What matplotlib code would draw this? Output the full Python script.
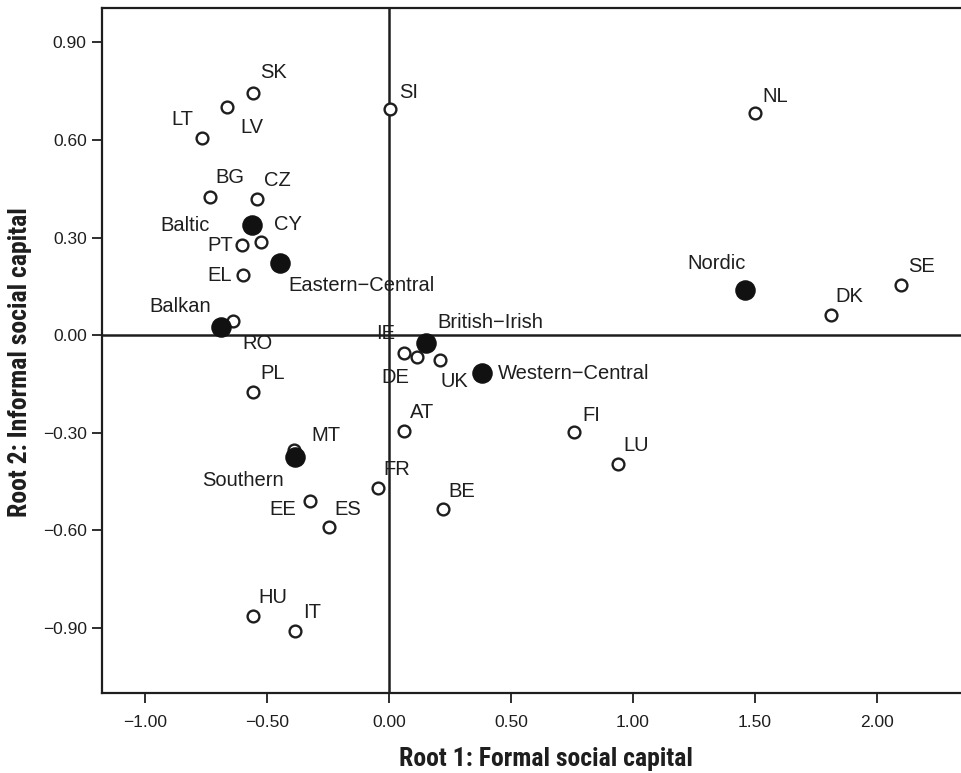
import matplotlib
matplotlib.use("Agg")
import matplotlib.pyplot as plt
from matplotlib import font_manager

plt.rcParams['font.family'] = ['Liberation Sans', 'DejaVu Sans']

# country scores on the two discriminant roots
countries = ['SK', 'LV', 'LT', 'SI', 'NL', 'BG', 'CZ', 'CY', 'PT', 'EL', 'RO',
             'SE', 'DK', 'IE', 'DE', 'UK', 'PL', 'AT', 'MT', 'FR', 'EE', 'ES',
             'BE', 'FI', 'LU', 'HU', 'IT']
root1 = [-0.557, -0.664, -0.766, 0.004, 1.50, -0.734, -0.541, -0.525, -0.602, -0.598, -0.639,
         2.10, 1.81, 0.061, 0.115, 0.209, -0.557, 0.061, -0.389, -0.045, -0.324, -0.246,
         0.221, 0.758, 0.939, -0.557, -0.385]
root2 = [0.745, 0.702, 0.606, 0.695, 0.683, 0.425, 0.418, 0.286, 0.277, 0.185, 0.043,
         0.154, 0.062, -0.055, -0.066, -0.077, -0.175, -0.295, -0.354, -0.471, -0.511, -0.591,
         -0.535, -0.298, -0.397, -0.862, -0.908]

# group centroids
groups = ['Baltic', 'Eastern\u2212Central', 'Balkan', 'British\u2212Irish',
          'Western\u2212Central', 'Southern', 'Nordic']
g_root1 = [-0.561, -0.447, -0.689, 0.152, 0.381, -0.385, 1.459]
g_root2 = [0.338, 0.222, 0.025, -0.025, -0.117, -0.375, 0.138]

# label offsets in pixels (dx, dy up) and horizontal alignment
c_off = {'SK': (20, 20), 'LV': (25, -21), 'LT': (-20, 19), 'SI': (19, 17), 'NL': (20, 17),
         'BG': (20, 19), 'CZ': (20, 19), 'CY': (27, 18), 'PT': (-22, 0), 'EL': (-23, 0),
         'RO': (24, -22), 'SE': (20, 19), 'DK': (19, 19), 'IE': (-18, 20), 'DE': (-22, -21),
         'UK': (14, -21), 'PL': (20, 19), 'AT': (18, 19), 'MT': (32, 15), 'FR': (19, 19),
         'EE': (-27, -8), 'ES': (19, 18), 'BE': (19, 18), 'FI': (17, 17), 'LU': (18, 19),
         'HU': (20, 18), 'IT': (17, 18)}
g_off = {'Baltic': (-67, 0, 'center'), 'Eastern\u2212Central': (9, -23, 'left'),
         'Balkan': (-41, 21, 'center'), 'British\u2212Irish': (11, 21, 'left'),
         'Western\u2212Central': (16, 0, 'left'), 'Southern': (-52, -23, 'center'),
         'Nordic': (-28, 27, 'center')}

# narrow bold face for the axis titles, if one is installed
names = {f.name for f in font_manager.fontManager.ttflist}
narrow = [n for n in ['Roboto Condensed', 'Liberation Sans Narrow', 'Open Sans Condensed',
                      'DejaVu Sans Condensed'] if n in names]
if narrow:
    lab_font = dict(family=[narrow[0], 'DejaVu Sans'], fontsize=18.5)
else:
    lab_font = dict(family=['DejaVu Sans'], fontstretch='condensed', fontsize=16)

dpi = 100
fig = plt.figure(figsize=(9.61, 7.73), dpi=dpi)
ax = fig.add_axes([0.1061, 0.1035, 0.8939, 0.8862])
ink = '#1e1e1e'
px = 72.0 / dpi

ax.axvline(0, color=ink, lw=1.8, zorder=3)
ax.axhline(0, color=ink, lw=1.8, zorder=3)

ax.scatter(root1, root2, s=72, facecolor='white', edgecolor=ink, linewidth=1.7, zorder=4)
ax.scatter(g_root1, g_root2, s=190, color='#111111', zorder=5)

for c, x, y in zip(countries, root1, root2):
    dx, dy = c_off[c]
    ax.annotate(c, (x, y), xytext=(dx * px, dy * px), textcoords='offset points',
                ha='center', va='center', fontsize=14.5, color=ink, zorder=2)

for g, x, y in zip(groups, g_root1, g_root2):
    dx, dy, ha = g_off[g]
    ax.annotate(g, (x, y), xytext=(dx * px, dy * px), textcoords='offset points',
                ha=ha, va='center', fontsize=14.5, color=ink, zorder=2)

ax.set_xlim(-1.176, 2.344)
ax.set_ylim(-1.10, 1.006)
ax.set_xticks([-1.0, -0.5, 0.0, 0.5, 1.0, 1.5, 2.0])
ax.set_yticks([0.9, 0.6, 0.3, 0.0, -0.3, -0.6, -0.9])
ax.set_xticklabels(['\u22121.00', '\u22120.50', '0.00', '0.50', '1.00', '1.50', '2.00'])
ax.set_yticklabels(['0.90', '0.60', '0.30', '0.00', '\u22120.30', '\u22120.60', '\u22120.90'])
ax.tick_params(axis='both', direction='out', length=7, width=1.3, colors=ink, labelsize=12.5)
ax.tick_params(axis='x', pad=9)
ax.tick_params(axis='y', pad=4)

for side in ['left', 'bottom', 'top']:
    ax.spines[side].set_linewidth(1.6)
    ax.spines[side].set_color(ink)
ax.spines['right'].set_visible(False)

ax.set_xlabel('Root 1: Formal social capital', labelpad=12, fontweight='bold', color=ink, **lab_font)
ax.set_ylabel('Root 2: Informal social capital', labelpad=8, fontweight='bold', color=ink, **lab_font)
# the original chart was cropped on the right, so the titles sit off-centre
ax.xaxis.label.set_x(0.517)
ax.yaxis.label.set_y(0.483)

fig.savefig('out.png', dpi=dpi)
